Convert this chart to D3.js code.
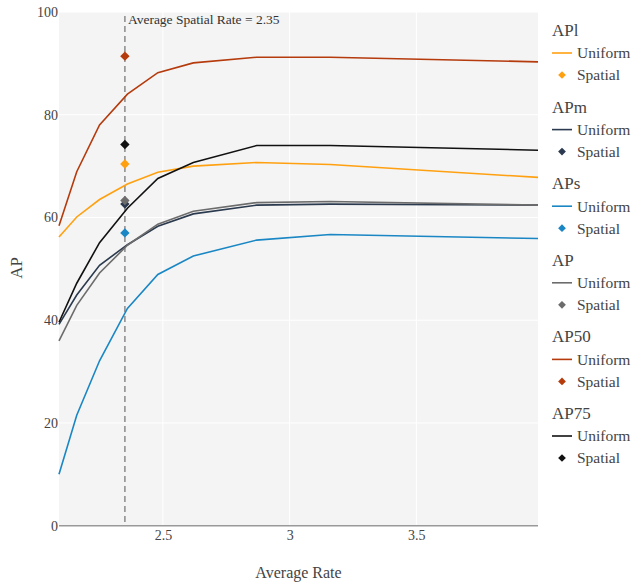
<!DOCTYPE html>
<html><head><meta charset="utf-8">
<script src="https://cdn.jsdelivr.net/npm/d3@7"></script>
<style>
html,body{margin:0;padding:0;background:#fff;}
svg text{font-family:"Liberation Serif","Times New Roman",serif !important;}
</style></head>
<body><svg id="c" width="632" height="584"></svg>
<script>
const rates = [2.09, 2.16, 2.25, 2.36, 2.48, 2.62, 2.87, 3.16, 3.98];
const seriesNames = ["APl", "APm", "APs", "AP", "AP50", "AP75"];
const uniformAPl  = [56.2, 60.1, 63.5, 66.5, 68.8, 70.0, 70.7, 70.3, 67.8];
const uniformAPm  = [39.2, 44.9, 50.7, 54.7, 58.3, 60.7, 62.4, 62.6, 62.4];
const uniformAPs  = [10.0, 21.5, 32.1, 42.3, 48.9, 52.5, 55.6, 56.7, 55.9];
const uniformAP   = [36.0, 42.9, 49.2, 54.6, 58.7, 61.2, 62.9, 63.1, 62.4];
const uniformAP50 = [58.4, 68.9, 78.0, 84.0, 88.2, 90.1, 91.2, 91.2, 90.3];
const uniformAP75 = [39.6, 47.2, 55.1, 61.8, 67.6, 70.7, 74.0, 74.0, 73.1];
const spatialRate = 2.35;
const spatialValues = [70.4, 62.6, 57.0, 63.3, 91.4, 74.2];
const xTicks = [2.5, 3, 3.5];
const yTicks = [0, 20, 40, 60, 80, 100];
const colors = ["#ffa010", "#2b3a4e", "#1a87c4", "#6c6c6c", "#b53a0c", "#111111"];
const uniformData = [uniformAPl, uniformAPm, uniformAPs, uniformAP, uniformAP50, uniformAP75];

const FONT = '"Liberation Serif","Times New Roman",serif';
const svg = d3.select("#c");
const L = 59, R = 538, T = 12, B = 525.7;
const x = d3.scaleLinear().domain([d3.min(rates), d3.max(rates)]).range([L, R]);
const y = d3.scaleLinear().domain([0, 100]).range([B, T]);

svg.append("rect").attr("x", L).attr("y", T).attr("width", R - L).attr("height", B - T).attr("fill", "#f4f4f4");

// grid
svg.append("g").selectAll("line").data(yTicks.filter(d => d > 0)).join("line")
  .attr("x1", L).attr("x2", R).attr("y1", d => y(d)).attr("y2", d => y(d))
  .attr("stroke", "#fff").attr("stroke-width", 1);
svg.append("g").selectAll("line").data(xTicks).join("line")
  .attr("y1", T).attr("y2", B).attr("x1", d => x(d)).attr("x2", d => x(d))
  .attr("stroke", "#fff").attr("stroke-width", 1);

// axes
const yAxis = svg.append("g").attr("transform", `translate(${L - 1},0)`)
  .call(d3.axisLeft(y).tickValues(yTicks).tickSize(0).tickPadding(0).tickFormat(d3.format("d")));
yAxis.attr("font-family", FONT).attr("font-size", 14);
yAxis.select(".domain").remove();
yAxis.selectAll("text").style("font-family", FONT).style("font-size", "14px").attr("fill", "#444");

const xAxis = svg.append("g").attr("transform", `translate(0,${B})`)
  .call(d3.axisBottom(x).tickValues(xTicks).tickSize(0).tickPadding(4).tickFormat(d => String(d)));
xAxis.attr("font-family", FONT).attr("font-size", 14);
xAxis.select(".domain").remove();
xAxis.selectAll("text").style("font-family", FONT).style("font-size", "14px").attr("fill", "#444");

// zero line
svg.append("line").attr("x1", L).attr("x2", R).attr("y1", y(0)).attr("y2", y(0))
  .attr("stroke", "#999").attr("stroke-width", 1.5);

// dashed spatial rate line
svg.append("line").attr("x1", x(spatialRate)).attr("x2", x(spatialRate))
  .attr("y1", T + 4).attr("y2", B)
  .attr("stroke", "#8a8a8a").attr("stroke-width", 1.5).attr("stroke-dasharray", "6,4");
svg.append("text").attr("x", x(spatialRate) + 3).attr("y", 24)
  .style("font-family", FONT).style("font-size", "13.5px").attr("fill", "#333")
  .text("Average Spatial Rate = " + spatialRate);

// lines
const line = d3.line().x((d, i) => x(rates[i])).y(d => y(d));
uniformData.forEach((vals, k) => {
  svg.append("path").datum(vals).attr("d", line)
    .attr("fill", "none").attr("stroke", colors[k]).attr("stroke-width", 1.6);
});
// markers (rotated squares)
const sq = d3.symbol().type(d3.symbolSquare);
spatialValues.forEach((v, k) => {
  svg.append("path").attr("d", sq.size(44)())
    .attr("transform", `translate(${x(spatialRate)},${y(v)}) rotate(45)`)
    .attr("fill", colors[k]);
});

// axis titles
svg.append("text").attr("x", 298.5).attr("y", 578).attr("text-anchor", "middle")
  .style("font-family", FONT).style("font-size", "16px").attr("fill", "#444").text("Average Rate");
svg.append("text").attr("transform", "translate(22,268) rotate(-90)").attr("text-anchor", "middle")
  .style("font-family", FONT).style("font-size", "17px").attr("fill", "#444").text("AP");

// legend
const lg = svg.append("g");
const gy0 = 30, gStep = 76.6;
seriesNames.forEach((name, k) => {
  const gy = gy0 + k * gStep;
  lg.append("text").attr("x", 552).attr("y", gy).attr("dy", "0.35em")
    .style("font-family", FONT).style("font-size", "17px").attr("fill", "#444").text(name);
  lg.append("line").attr("x1", 552).attr("x2", 572).attr("y1", gy + 23).attr("y2", gy + 23)
    .attr("stroke", colors[k]).attr("stroke-width", 1.6);
  lg.append("text").attr("x", 577).attr("y", gy + 23).attr("dy", "0.35em")
    .style("font-family", FONT).style("font-size", "15.5px").attr("fill", "#444").text("Uniform");
  lg.append("path").attr("d", sq.size(30)())
    .attr("transform", `translate(562,${gy + 45}) rotate(45)`).attr("fill", colors[k]);
  lg.append("text").attr("x", 577).attr("y", gy + 45).attr("dy", "0.35em")
    .style("font-family", FONT).style("font-size", "15.5px").attr("fill", "#444").text("Spatial");
});
</script></body></html>
